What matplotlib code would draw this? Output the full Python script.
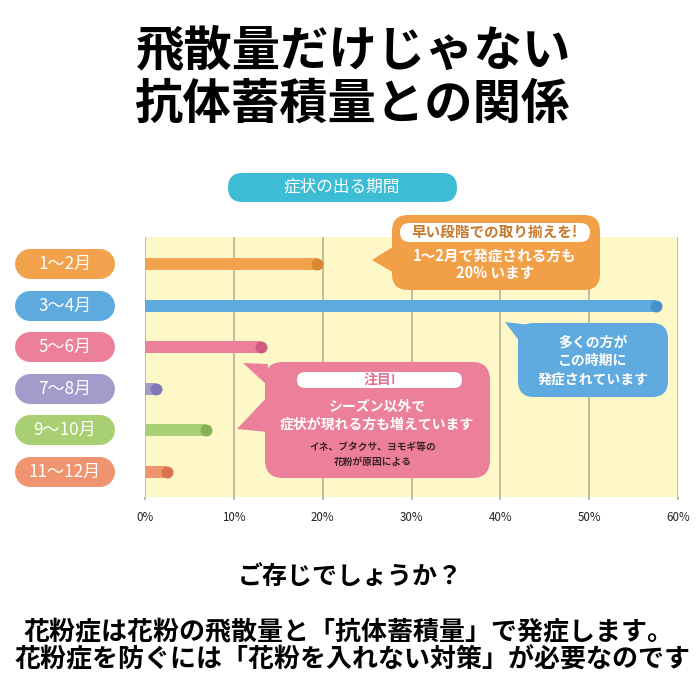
import matplotlib
matplotlib.use("Agg")
import matplotlib.pyplot as plt
from matplotlib.patches import FancyBboxPatch, Polygon

plt.rcParams['font.family'] = ['Noto Sans CJK JP', 'DejaVu Sans']

# data
periods = ["1～2月", "3～4月", "5～6月", "7～8月", "9～10月", "11～12月"]
share = [19.4, 57.5, 13.1, 1.2, 6.9, 2.5]
bar_colors = ["#F2A24C", "#5EAADF", "#EC7F99", "#A29CCB", "#A8CF72", "#F0936F"]
end_colors = ["#D8862F", "#4690CB", "#CD5C7D", "#8079B6", "#86B055", "#D9734F"]
ticks = [0, 10, 20, 30, 40, 50, 60]
tick_labels = [f"{t}%" for t in ticks]

title_lines = ["飛散量だけじゃない", "抗体蓄積量との関係"]
header = "症状の出る期間"
question = "ご存じでしょうか？"
footer = ["花粉症は花粉の飛散量と「抗体蓄積量」で発症します。",
          "花粉症を防ぐには「花粉を入れない対策」が必要なのです"]

fig = plt.figure(figsize=(7, 7), dpi=100)

# bar chart
ax = fig.add_axes([145 / 700, 1 - 497 / 700, 533 / 700, 260 / 700])
ax.set_facecolor("#FEF8C9")
ax.set_xlim(0, 60)
ax.set_ylim(5.61, -0.65)
for s in ax.spines.values():
    s.set_visible(False)
ax.set_xticks(ticks)
ax.set_xticklabels(tick_labels, fontsize=8.3, color="#222222")
ax.set_yticks([])
ax.tick_params(axis="x", length=2, width=1.3, color="#BDB79A", pad=8)
ax.xaxis.grid(True, color="#BDB79A", lw=1.3)
ax.set_axisbelow(True)

for i, (v, c, dc) in enumerate(zip(share, bar_colors, end_colors)):
    ax.plot([0, v], [i, i], color=c, lw=8.6, solid_capstyle="butt", zorder=3)
    ax.plot(v, i, "o", ms=8.6, color=dc, mew=0, zorder=4)

# row labels as pills to the left of the axis
ytr = ax.get_yaxis_transform()
for i, (lab, c) in enumerate(zip(periods, bar_colors)):
    ax.plot([-0.2158, -0.0844], [i, i], color=c, lw=21.6, solid_capstyle="round",
            transform=ytr, clip_on=False)
    ax.text(-0.150, i, lab, transform=ytr, ha="center", va="center",
            color="white", fontsize=12.3, clip_on=False)

# overlay in pixel units for titles and callouts
ov = fig.add_axes([0, 0, 1, 1], zorder=5)
ov.set_xlim(0, 700)
ov.set_ylim(700, 0)
ov.axis("off")
ov.patch.set_alpha(0)


def rbox(x0, y0, x1, y1, color, r):
    ov.add_patch(FancyBboxPatch((x0, y0), x1 - x0, y1 - y0,
                                boxstyle=f"round,pad=0,rounding_size={r}",
                                fc=color, ec="none"))


ov.text(354, 51, title_lines[0], ha="center", va="center", fontsize=34.8, weight="bold")
ov.text(352, 104, title_lines[1], ha="center", va="center", fontsize=34.8, weight="bold")

rbox(228, 173, 457, 202, "#3DBCD6", 14.5)
ov.text(342, 187, header, ha="center", va="center", color="white", fontsize=12)

# orange callout
orange = "#F2A048"
ov.add_patch(Polygon([(394, 246), (372, 260), (394, 273)], fc=orange, ec="none"))
rbox(392, 215, 600, 290, orange, 16)
rbox(400, 223, 590, 242, "white", 9.5)
ov.text(495, 232, "早い段階での取り揃えを!", ha="center", va="center",
        color="#C7772A", fontsize=10.5, weight="bold")
ov.text(495, 256, "1～2月で発症される方も", ha="center", va="center",
        color="white", fontsize=10.5, weight="bold")
ov.text(495, 273, "20% います", ha="center", va="center",
        color="white", fontsize=10.5, weight="bold")

# blue callout
blue = "#5FAADF"
ov.add_patch(Polygon([(530, 325), (505, 322), (520, 342)], fc=blue, ec="none"))
rbox(518, 323, 668, 397, blue, 16)
for yy, t in zip([342, 361, 380], ["多くの方が", "この時期に", "発症されています"]):
    ov.text(593, yy, t, ha="center", va="center", color="white",
            fontsize=10, weight="bold")

# pink callout
pink = "#EC7F99"
ov.add_patch(Polygon([(268, 364), (243, 363), (268, 386)], fc=pink, ec="none"))
ov.add_patch(Polygon([(268, 396), (237, 429), (268, 432)], fc=pink, ec="none"))
rbox(265, 362, 490, 478, pink, 18)
rbox(297, 372, 462, 388, "white", 8)
ov.text(380, 380, "注目!", ha="center", va="center", color="#E0708F",
        fontsize=10, weight="bold")
ov.text(377, 407, "シーズン以外で", ha="center", va="center", color="white",
        fontsize=10, weight="bold")
ov.text(377, 425, "症状が現れる方も増えています", ha="center", va="center",
        color="white", fontsize=10, weight="bold")
ov.text(373, 447, "イネ、ブタクサ、ヨモギ等の", ha="center", va="center",
        color="#3A2326", fontsize=7, weight="bold")
ov.text(373, 462, "花粉が原因による", ha="center", va="center",
        color="#3A2326", fontsize=7, weight="bold")

# bottom text
ov.text(350, 577, question, ha="center", va="center", fontsize=18, weight="bold")
ov.text(349, 633, footer[0], ha="center", va="center", fontsize=18.7, weight="bold")
ov.text(353, 660, footer[1], ha="center", va="center", fontsize=18.7, weight="bold")

fig.savefig("out.png", dpi=100, facecolor="white")
